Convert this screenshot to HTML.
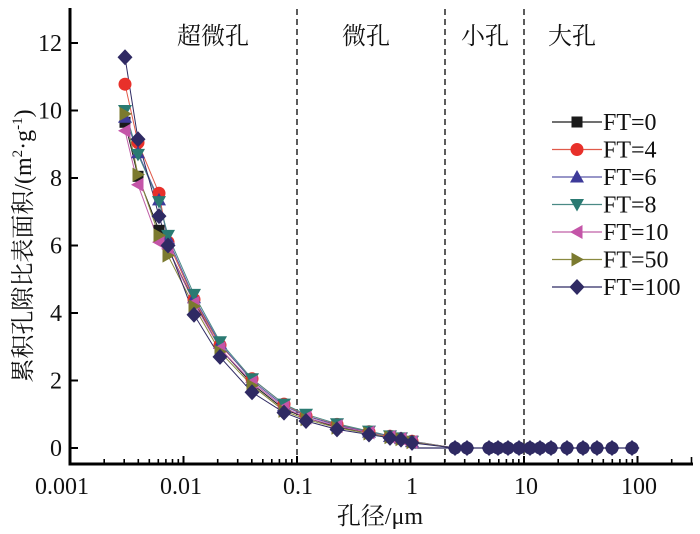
<!DOCTYPE html>
<html><head><meta charset="utf-8"><style>
html,body{margin:0;padding:0;background:#fff;}
svg{display:block;font-family:"Liberation Serif","Noto Serif CJK SC",serif;}
svg text{font-family:"Liberation Serif","Noto Serif CJK SC",serif;fill:#111;}
</style></head><body>
<svg width="700" height="534" viewBox="0 0 700 534" xmlns="http://www.w3.org/2000/svg" font-family="'Liberation Serif','Noto Serif CJK SC',serif">
<defs>
<rect id="sq" x="-5.5" y="-5.5" width="11" height="11" fill="#1a1a1a"/>
<circle id="ci" r="6.5" fill="#e8302a"/>
<polygon id="tu" points="0,-7 7,5.5 -7,5.5" fill="#3d3a99"/>
<polygon id="td" points="-7,-5.5 7,-5.5 0,7" fill="#2a7a72"/>
<polygon id="tl" points="-7,0 5.5,-7 5.5,7" fill="#c455a8"/>
<polygon id="tr" points="7,0 -5.5,-7 -5.5,7" fill="#7b7a2f"/>
<polygon id="di" points="0,-8 7.5,0 0,8 -7.5,0" fill="#2f2a63"/>
</defs>

<g stroke="#333" stroke-width="1.6" stroke-dasharray="6,4">
<line x1="297" y1="9" x2="297" y2="462"/>
<line x1="445" y1="9" x2="445" y2="462"/>
<line x1="524" y1="9" x2="524" y2="462"/>
</g>

<g font-size="24" text-anchor="middle" font-family="'Liberation Serif','Noto Serif CJK SC',serif" fill="#111">
<text x="213" y="44" style="font-family:'Noto Serif CJK SC',serif">超微孔</text>
<text x="366" y="44" style="font-family:'Noto Serif CJK SC',serif">微孔</text>
<text x="485" y="44" style="font-family:'Noto Serif CJK SC',serif">小孔</text>
<text x="572" y="44" style="font-family:'Noto Serif CJK SC',serif">大孔</text>
</g>

<line x1="412" y1="448" x2="632" y2="448" stroke="#2f2a63" stroke-width="1.2"/>

<g fill="none" stroke-width="1">
<polyline stroke="#1a1a1a" points="125,122.3 138,176.3 159,230.3 168,248.9 194,301.2 220,348.4 252,383.9 284,409.2 306,417.6 337,427.1 369,432.8 390,436.9 401,438.9 412,441.9 455,448"/>
<polyline stroke="#e05a4a" points="125,84.2 138,142.6 159,193.2 168,242.1 194,299.5 220,345.1 252,378.8 284,404.1 306,415.9 337,424.4 369,431.8 390,436.2 401,438.6 412,441.3 455,448"/>
<polyline stroke="#5a57a8" points="125,117.3 138,152.7 159,199.9 168,238.8 194,297.8 220,343.4 252,380.5 284,405.8 306,415.9 337,425.1 369,432.1 390,436.5 401,438.6 412,441.6 455,448"/>
<polyline stroke="#4a8a85" points="125,110.5 138,154.4 159,201.6 168,235.4 194,294.4 220,341.7 252,378.8 284,404.1 306,414.3 337,423.7 369,431.1 390,435.9 401,437.9 412,441.3 455,448"/>
<polyline stroke="#c060a8" points="125,130.8 138,184.8 159,242.1 168,248.9 194,302.9 220,348.4 252,382.2 284,407.5 306,417.6 337,426.1 369,432.5 390,436.9 401,438.9 412,441.9 455,448"/>
<polyline stroke="#8a8a40" points="125,113.9 138,174.6 159,235.4 168,255.6 194,306.3 220,351.8 252,385.6 284,410.9 306,419.3 337,427.8 369,433.5 390,437.2 401,439.2 412,442.3 455,448"/>
<polyline stroke="#2f2a63" points="125,57.2 138,139.2 159,216.1 168,245.5 194,314.7 220,356.9 252,392.3 284,412.6 306,421 337,429.4 369,434.5 390,437.9 401,439.6 412,442.9 455,448"/>
</g>

<g>
<use href="#sq" x="125" y="122.3"/><use href="#sq" x="138" y="176.3"/><use href="#sq" x="159" y="230.3"/><use href="#sq" x="168" y="248.9"/><use href="#sq" x="194" y="301.2"/><use href="#sq" x="220" y="348.4"/><use href="#sq" x="252" y="383.9"/><use href="#sq" x="284" y="409.2"/><use href="#sq" x="306" y="417.6"/><use href="#sq" x="337" y="427.1"/><use href="#sq" x="369" y="432.8"/><use href="#sq" x="390" y="436.9"/><use href="#sq" x="401" y="438.9"/><use href="#sq" x="412" y="441.9"/>
</g>
<g>
<use href="#ci" x="125" y="84.2"/><use href="#ci" x="138" y="142.6"/><use href="#ci" x="159" y="193.2"/><use href="#ci" x="168" y="242.1"/><use href="#ci" x="194" y="299.5"/><use href="#ci" x="220" y="345.1"/><use href="#ci" x="252" y="378.8"/><use href="#ci" x="284" y="404.1"/><use href="#ci" x="306" y="415.9"/><use href="#ci" x="337" y="424.4"/><use href="#ci" x="369" y="431.8"/><use href="#ci" x="390" y="436.2"/><use href="#ci" x="401" y="438.6"/><use href="#ci" x="412" y="441.3"/>
</g>
<g>
<use href="#tu" x="125" y="117.3"/><use href="#tu" x="138" y="152.7"/><use href="#tu" x="159" y="199.9"/><use href="#tu" x="168" y="238.8"/><use href="#tu" x="194" y="297.8"/><use href="#tu" x="220" y="343.4"/><use href="#tu" x="252" y="380.5"/><use href="#tu" x="284" y="405.8"/><use href="#tu" x="306" y="415.9"/><use href="#tu" x="337" y="425.1"/><use href="#tu" x="369" y="432.1"/><use href="#tu" x="390" y="436.5"/><use href="#tu" x="401" y="438.6"/><use href="#tu" x="412" y="441.6"/>
</g>
<g>
<use href="#td" x="125" y="110.5"/><use href="#td" x="138" y="154.4"/><use href="#td" x="159" y="201.6"/><use href="#td" x="168" y="235.4"/><use href="#td" x="194" y="294.4"/><use href="#td" x="220" y="341.7"/><use href="#td" x="252" y="378.8"/><use href="#td" x="284" y="404.1"/><use href="#td" x="306" y="414.3"/><use href="#td" x="337" y="423.7"/><use href="#td" x="369" y="431.1"/><use href="#td" x="390" y="435.9"/><use href="#td" x="401" y="437.9"/><use href="#td" x="412" y="441.3"/>
</g>
<g>
<use href="#tl" x="125" y="130.8"/><use href="#tl" x="138" y="184.8"/><use href="#tl" x="159" y="242.1"/><use href="#tl" x="168" y="248.9"/><use href="#tl" x="194" y="302.9"/><use href="#tl" x="220" y="348.4"/><use href="#tl" x="252" y="382.2"/><use href="#tl" x="284" y="407.5"/><use href="#tl" x="306" y="417.6"/><use href="#tl" x="337" y="426.1"/><use href="#tl" x="369" y="432.5"/><use href="#tl" x="390" y="436.9"/><use href="#tl" x="401" y="438.9"/><use href="#tl" x="412" y="441.9"/>
</g>
<g>
<use href="#tr" x="125" y="113.9"/><use href="#tr" x="138" y="174.6"/><use href="#tr" x="159" y="235.4"/><use href="#tr" x="168" y="255.6"/><use href="#tr" x="194" y="306.3"/><use href="#tr" x="220" y="351.8"/><use href="#tr" x="252" y="385.6"/><use href="#tr" x="284" y="410.9"/><use href="#tr" x="306" y="419.3"/><use href="#tr" x="337" y="427.8"/><use href="#tr" x="369" y="433.5"/><use href="#tr" x="390" y="437.2"/><use href="#tr" x="401" y="439.2"/><use href="#tr" x="412" y="442.3"/>
</g>
<g>
<use href="#di" x="125" y="57.2"/><use href="#di" x="138" y="139.2"/><use href="#di" x="159" y="216.1"/><use href="#di" x="168" y="245.5"/><use href="#di" x="194" y="314.7"/><use href="#di" x="220" y="356.9"/><use href="#di" x="252" y="392.3"/><use href="#di" x="284" y="412.6"/><use href="#di" x="306" y="421"/><use href="#di" x="337" y="429.4"/><use href="#di" x="369" y="434.5"/><use href="#di" x="390" y="437.9"/><use href="#di" x="401" y="439.6"/><use href="#di" x="412" y="442.9"/>
</g>

<g fill="#2f2a63">
<circle cx="455" cy="448" r="6.5"/><circle cx="467" cy="448" r="6.5"/><circle cx="489" cy="448" r="6.5"/><circle cx="498" cy="448" r="6.5"/><circle cx="508" cy="448" r="6.5"/><circle cx="519" cy="448" r="6.5"/><circle cx="530" cy="448" r="6.5"/><circle cx="540" cy="448" r="6.5"/><circle cx="551" cy="448" r="6.5"/><circle cx="567" cy="448" r="6.5"/><circle cx="583" cy="448" r="6.5"/><circle cx="597" cy="448" r="6.5"/><circle cx="612" cy="448" r="6.5"/><circle cx="632" cy="448" r="6.5"/>
</g>
<g>
<use href="#di" x="455" y="448"/><use href="#di" x="467" y="448"/><use href="#di" x="489" y="448"/><use href="#di" x="498" y="448"/><use href="#di" x="508" y="448"/><use href="#di" x="519" y="448"/><use href="#di" x="530" y="448"/><use href="#di" x="540" y="448"/><use href="#di" x="551" y="448"/><use href="#di" x="567" y="448"/><use href="#di" x="583" y="448"/><use href="#di" x="597" y="448"/><use href="#di" x="612" y="448"/><use href="#di" x="632" y="448"/>
</g>

<line x1="70" y1="8" x2="70" y2="465.5" stroke="#000" stroke-width="3"/>
<line x1="68.5" y1="464" x2="693" y2="464" stroke="#000" stroke-width="3"/>

<g stroke="#000" stroke-width="2">
<line x1="70" y1="448" x2="78" y2="448"/>
<line x1="70" y1="380.5" x2="78" y2="380.5"/>
<line x1="70" y1="313" x2="78" y2="313"/>
<line x1="70" y1="245.5" x2="78" y2="245.5"/>
<line x1="70" y1="178" x2="78" y2="178"/>
<line x1="70" y1="110.5" x2="78" y2="110.5"/>
<line x1="70" y1="43" x2="78" y2="43"/>
</g>
<g font-size="24" text-anchor="end" font-family="'Liberation Serif',serif" fill="#111" style="font-family:'Liberation Serif',serif">
<text x="62" y="456">0</text>
<text x="62" y="388.5">2</text>
<text x="62" y="321">4</text>
<text x="62" y="253.5">6</text>
<text x="62" y="186">8</text>
<text x="62" y="118.5">10</text>
<text x="62" y="51">12</text>
</g>

<g stroke="#000" stroke-width="2">
<line x1="183.5" y1="464" x2="183.5" y2="456"/>
<line x1="297" y1="464" x2="297" y2="456"/>
<line x1="410.5" y1="464" x2="410.5" y2="456"/>
<line x1="524" y1="464" x2="524" y2="456"/>
<line x1="637.5" y1="464" x2="637.5" y2="456"/>
</g>
<g stroke="#000" stroke-width="1.6">
<line x1="104.2" y1="464" x2="104.2" y2="459"/><line x1="124.2" y1="464" x2="124.2" y2="459"/><line x1="138.3" y1="464" x2="138.3" y2="459"/><line x1="149.3" y1="464" x2="149.3" y2="459"/><line x1="158.3" y1="464" x2="158.3" y2="459"/><line x1="165.9" y1="464" x2="165.9" y2="459"/><line x1="172.5" y1="464" x2="172.5" y2="459"/><line x1="178.3" y1="464" x2="178.3" y2="459"/>
<line x1="217.7" y1="464" x2="217.7" y2="459"/><line x1="237.7" y1="464" x2="237.7" y2="459"/><line x1="251.8" y1="464" x2="251.8" y2="459"/><line x1="262.8" y1="464" x2="262.8" y2="459"/><line x1="271.8" y1="464" x2="271.8" y2="459"/><line x1="279.4" y1="464" x2="279.4" y2="459"/><line x1="286" y1="464" x2="286" y2="459"/><line x1="291.8" y1="464" x2="291.8" y2="459"/>
<line x1="331.2" y1="464" x2="331.2" y2="459"/><line x1="351.2" y1="464" x2="351.2" y2="459"/><line x1="365.3" y1="464" x2="365.3" y2="459"/><line x1="376.3" y1="464" x2="376.3" y2="459"/><line x1="385.3" y1="464" x2="385.3" y2="459"/><line x1="392.9" y1="464" x2="392.9" y2="459"/><line x1="399.5" y1="464" x2="399.5" y2="459"/><line x1="405.3" y1="464" x2="405.3" y2="459"/>
<line x1="444.7" y1="464" x2="444.7" y2="459"/><line x1="464.7" y1="464" x2="464.7" y2="459"/><line x1="478.8" y1="464" x2="478.8" y2="459"/><line x1="489.8" y1="464" x2="489.8" y2="459"/><line x1="498.8" y1="464" x2="498.8" y2="459"/><line x1="506.4" y1="464" x2="506.4" y2="459"/><line x1="513" y1="464" x2="513" y2="459"/><line x1="518.8" y1="464" x2="518.8" y2="459"/>
<line x1="558.2" y1="464" x2="558.2" y2="459"/><line x1="578.2" y1="464" x2="578.2" y2="459"/><line x1="592.3" y1="464" x2="592.3" y2="459"/><line x1="603.3" y1="464" x2="603.3" y2="459"/><line x1="612.3" y1="464" x2="612.3" y2="459"/><line x1="619.9" y1="464" x2="619.9" y2="459"/><line x1="626.5" y1="464" x2="626.5" y2="459"/><line x1="632.3" y1="464" x2="632.3" y2="459"/>
<line x1="671.7" y1="464" x2="671.7" y2="459"/><line x1="691.5" y1="464" x2="691.5" y2="457"/>
</g>
<g font-size="24" text-anchor="middle" font-family="'Liberation Serif',serif" fill="#111" style="font-family:'Liberation Serif',serif">
<text x="62" y="494">0.001</text>
<text x="181" y="494">0.01</text>
<text x="298" y="494">0.1</text>
<text x="412" y="494">1</text>
<text x="526" y="494">10</text>
<text x="639" y="494">100</text>
</g>

<text x="380" y="524" font-size="24" text-anchor="middle" fill="#111" font-family="'Liberation Serif','Noto Serif CJK SC',serif" style="font-family:'Liberation Serif','Noto Serif CJK SC',serif">孔径/μm</text>
<text transform="translate(31,246) rotate(-90)" font-size="24" text-anchor="middle" fill="#111" font-family="'Liberation Serif','Noto Serif CJK SC',serif" style="font-family:'Liberation Serif','Noto Serif CJK SC',serif">累积孔隙比表面积/(m<tspan font-size="15" dy="-9">2</tspan><tspan dy="9">·g</tspan><tspan font-size="15" dy="-9">-1</tspan><tspan dy="9">)</tspan></text>

<g stroke-width="1.2">
<line x1="552" y1="122" x2="602" y2="122" stroke="#1a1a1a"/>
<line x1="552" y1="149.5" x2="602" y2="149.5" stroke="#e05a4a"/>
<line x1="552" y1="177" x2="602" y2="177" stroke="#5a57a8"/>
<line x1="552" y1="204.5" x2="602" y2="204.5" stroke="#4a8a85"/>
<line x1="552" y1="232" x2="602" y2="232" stroke="#c060a8"/>
<line x1="552" y1="259.5" x2="602" y2="259.5" stroke="#8a8a40"/>
<line x1="552" y1="287" x2="602" y2="287" stroke="#2f2a63"/>
</g>
<use href="#sq" x="577" y="122"/>
<use href="#ci" x="577" y="149.5"/>
<use href="#tu" x="577" y="177"/>
<use href="#td" x="577" y="204.5"/>
<use href="#tl" x="577" y="232"/>
<use href="#tr" x="577" y="259.5"/>
<use href="#di" x="577" y="287"/>
<g font-size="24" font-family="'Liberation Serif',serif" fill="#111" style="font-family:'Liberation Serif',serif">
<text x="603" y="130">FT=0</text>
<text x="603" y="157.5">FT=4</text>
<text x="603" y="185">FT=6</text>
<text x="603" y="212.5">FT=8</text>
<text x="603" y="240">FT=10</text>
<text x="603" y="267.5">FT=50</text>
<text x="603" y="295">FT=100</text>
</g>
</svg>
</body></html>
